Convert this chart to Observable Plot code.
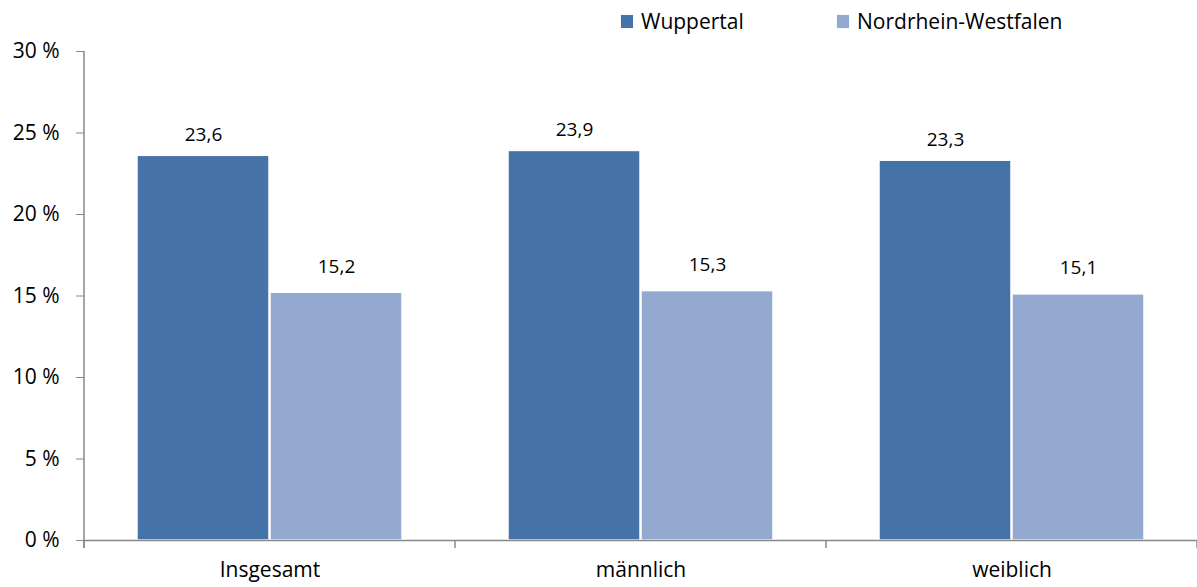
<!DOCTYPE html>
<html>
<head>
<meta charset="utf-8">
<script src="https://cdn.jsdelivr.net/npm/d3@7"></script>
<script src="https://cdn.jsdelivr.net/npm/@observablehq/plot@0.6"></script>
<style>
  html, body { margin: 0; padding: 0; background: #fff; }
  body { width: 1197px; height: 587px; font-family: "Open Sans", sans-serif; color: #000; }
  #legend { position: relative; height: 24px; z-index: 1; }
  .item { position: absolute; top: 7px; display: flex; align-items: center; font-size: 21px; line-height: 28px; }
  .sw { width: 12px; height: 13px; margin-right: 8px; box-shadow: 0 0 1px #ccc; }
</style>
</head>
<body>
<div id="legend"></div>
<div id="chart"></div>
<script>
const categories = ["Insgesamt", "männlich", "weiblich"];
const seriesNames = ["Wuppertal", "Nordrhein-Westfalen"];
const wuppertal = [23.6, 23.9, 23.3];
const nrw = [15.2, 15.3, 15.1];
const yTicks = [0, 5, 10, 15, 20, 25, 30];
const colors = ["#4572A7", "#94A9D0"];

const data = [];
categories.forEach((c, i) => {
  data.push({cat: c, series: seriesNames[0], value: wuppertal[i]});
  data.push({cat: c, series: seriesNames[1], value: nrw[i]});
});
const fmt = v => v.toFixed(1).replace(".", ",");

// legend
const legend = document.getElementById("legend");
const legendX = [621, 837];
seriesNames.forEach((s, i) => {
  const d = document.createElement("div");
  d.className = "item";
  d.style.left = legendX[i] + "px";
  d.innerHTML = `<span class="sw" style="background:${colors[i]}"></span><span>${s}</span>`;
  legend.appendChild(d);
});

const W = 1197, H = 563, mL = 84, mT = 27, mB = 47, mR = 0;
const plot = Plot.plot({
  width: W,
  height: H,
  marginLeft: mL,
  marginRight: mR,
  marginTop: mT,
  marginBottom: mB,
  style: {fontFamily: "Open Sans, sans-serif", fontSize: "21px", color: "#000", background: "transparent", overflow: "visible"},
  fx: {domain: categories, padding: 0, label: null},
  x: {domain: seriesNames, paddingInner: 0.0075, paddingOuter: 0.398, axis: null},
  y: {domain: [0, 30], ticks: yTicks, label: null},
  color: {domain: seriesNames, range: colors},
  marks: [
    Plot.axisY({ticks: yTicks, tickSize: 8, tickPadding: 17, stroke: "#888", tickFormat: d => d + " %", fontSize: 21, label: null}),
    Plot.axisFx({tickSize: 0, tickPadding: 22, fontSize: 21, label: null, anchor: "bottom"}),
    Plot.barY(data, {fx: "cat", x: "series", y: "value", fill: "series", stroke: "#fff", strokeWidth: 1.5}),
    Plot.ruleY([0], {stroke: "#888", strokeWidth: 1.5}),
    Plot.text(data.filter(d => d.series === seriesNames[0]), {fx: "cat", x: "series", y: "value", text: d => fmt(d.value), lineAnchor: "bottom", dy: -15, fontSize: 19}),
    Plot.text(data.filter(d => d.series === seriesNames[1]), {fx: "cat", x: "series", y: "value", text: d => fmt(d.value), lineAnchor: "bottom", dy: -20, fontSize: 19})
  ]
});
document.getElementById("chart").appendChild(plot);

// y-axis domain line and category separator ticks, from the plot's own scales
const svg = d3.select(plot);
const ys = plot.scale("y");
const fxs = plot.scale("fx");
const y0 = ys.apply(0), y30 = ys.apply(30);
svg.append("line").attr("x1", mL).attr("x2", mL).attr("y1", y30).attr("y2", y0 + 8)
  .attr("stroke", "#888").attr("stroke-width", 1.5);
const bounds = categories.map(c => fxs.apply(c)).concat([fxs.apply(categories[categories.length - 1]) + fxs.bandwidth]);
bounds.forEach(b => {
  svg.append("line").attr("x1", b).attr("x2", b).attr("y1", y0).attr("y2", y0 + 8)
    .attr("stroke", "#888").attr("stroke-width", 1.5);
});
</script>
</body>
</html>
